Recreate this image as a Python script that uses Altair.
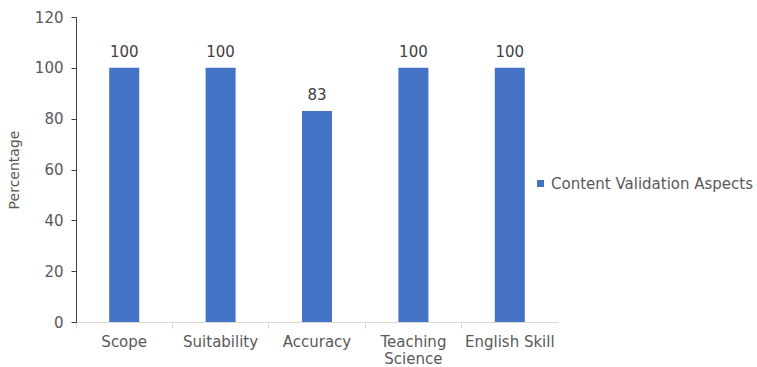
import altair as alt
import pandas as pd

categories = ["Scope", "Suitability", "Accuracy", "Teaching Science", "English Skill"]
values = [100, 100, 83, 100, 100]
series_name = "Content Validation Aspects"

df = pd.DataFrame({"aspect": categories, "pct": values, "series": [series_name] * len(categories)})

FONT = "DejaVu Sans"
GRAY = "#595959"

x_enc = alt.X(
    "aspect:N",
    sort=categories,
    scale=alt.Scale(paddingInner=0, paddingOuter=0),
    axis=alt.Axis(
        title=None,
        orient="bottom",
        labelAngle=0,
        labelFont=FONT,
        labelFontSize=15,
        labelColor=GRAY,
        domainColor="#d9d9d9",
        tickColor="#d9d9d9",
        tickSize=6,
        bandPosition=0,
        labelPadding=6,
        labelLineHeight=17,
        labelBaseline="top",
        grid=False,
        labelExpr="datum.label == 'Teaching Science' ? ['Teaching', 'Science'] : datum.label",
    ),
)

bars = alt.Chart(df).mark_bar(width=30).encode(
    x=x_enc,
    y=alt.Y(
        "pct:Q",
        scale=alt.Scale(domain=[0, 120]),
        axis=alt.Axis(
            title="Percentage",
            titleFont=FONT,
            titleFontSize=14,
            titleFontWeight="normal",
            titleColor=GRAY,
            titlePadding=13,
            values=[0, 20, 40, 60, 80, 100, 120],
            labelFont=FONT,
            labelFontSize=15,
            labelColor=GRAY,
            domainColor="#404040",
            tickColor="#404040",
            tickSize=5,
            labelPadding=8,
            grid=False,
        ),
    ),
    color=alt.Color(
        "series:N",
        scale=alt.Scale(range=["#4472C4"]),
        legend=alt.Legend(
            title=None,
            orient="none",
            legendX=457,
            legendY=159,
            symbolType="square",
            symbolSize=49,
            symbolStrokeWidth=0,
            labelFont=FONT,
            labelFontSize=15,
            labelColor=GRAY,
            labelOffset=3,
            labelLimit=400,
        ),
    ),
)

labels = alt.Chart(df).mark_text(
    dy=-8, baseline="bottom", font=FONT, fontSize=15, color="#404040"
).encode(x=alt.X("aspect:N", sort=categories), y="pct:Q", text="pct:Q")

chart = (
    alt.layer(bars, labels)
    .properties(
        width=482,
        height=305,
        autosize=alt.AutoSizeParams(type="none"),
        padding={"left": 76, "top": 17, "right": 199, "bottom": 45},
        background="white",
    )
    .configure_view(stroke=None)
)

chart.save("out.html", embed_options={"renderer": "svg", "actions": False})
